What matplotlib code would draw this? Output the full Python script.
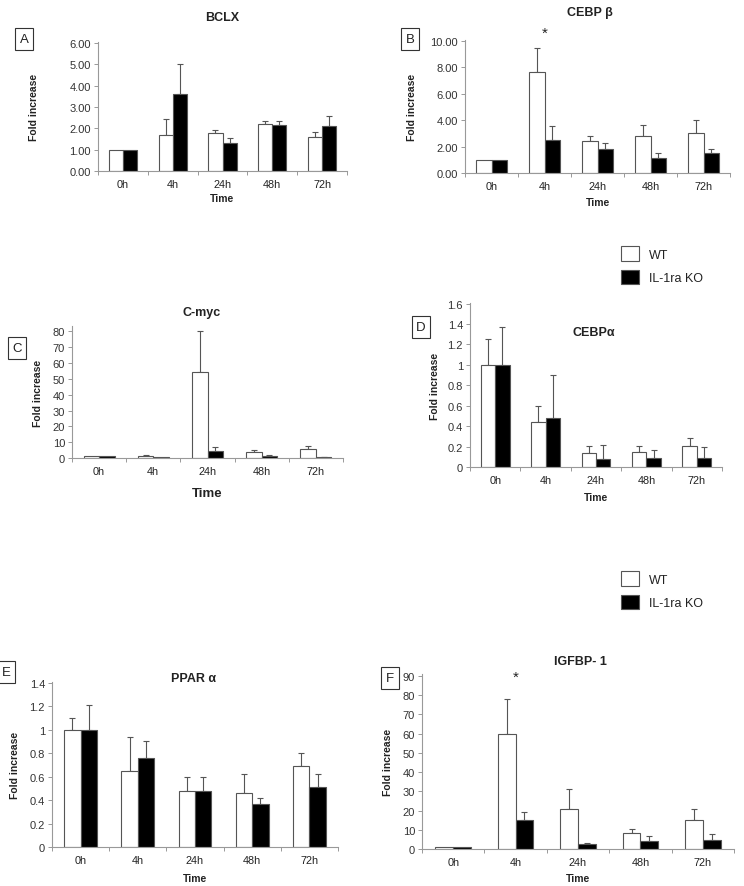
import numpy as np
import matplotlib
matplotlib.use('Agg')
import matplotlib.pyplot as plt
from matplotlib.patches import Patch

plt.rcParams['font.family'] = ['Liberation Sans', 'DejaVu Sans']

W, H = 744, 887

times = ['0h', '4h', '24h', '48h', '72h']

# Panel A - BCLX
bclx_wt = [1.0, 1.71, 1.79, 2.21, 1.60]
bclx_wt_err = [0, 0.74, 0.14, 0.13, 0.24]
bclx_ko = [1.0, 3.63, 1.32, 2.17, 2.10]
bclx_ko_err = [0, 1.39, 0.24, 0.17, 0.49]

# Panel B - CEBP beta
cebpb_wt = [1.0, 7.62, 2.43, 2.76, 3.06]
cebpb_wt_err = [0, 1.83, 0.33, 0.90, 0.92]
cebpb_ko = [1.0, 2.50, 1.85, 1.15, 1.48]
cebpb_ko_err = [0, 1.03, 0.45, 0.33, 0.30]

# Panel C - C-myc
cmyc_wt = [1.0, 1.5, 54.5, 3.6, 5.9]
cmyc_wt_err = [0, 0.5, 25.7, 1.7, 1.9]
cmyc_ko = [1.0, 0.5, 4.4, 1.4, 0.5]
cmyc_ko_err = [0, 0, 2.5, 0.5, 0.4]

# Panel D - CEBP alpha
cebpa_wt = [1.0, 0.44, 0.14, 0.15, 0.21]
cebpa_wt_err = [0.25, 0.16, 0.07, 0.06, 0.07]
cebpa_ko = [1.0, 0.48, 0.08, 0.09, 0.09]
cebpa_ko_err = [0.37, 0.42, 0.14, 0.08, 0.11]

# Panel E - PPAR alpha
ppar_wt = [1.0, 0.65, 0.48, 0.46, 0.69]
ppar_wt_err = [0.10, 0.29, 0.12, 0.16, 0.11]
ppar_ko = [1.0, 0.755, 0.48, 0.37, 0.51]
ppar_ko_err = [0.21, 0.145, 0.12, 0.05, 0.115]

# Panel F - IGFBP-1
igfbp_wt = [1.2, 59.7, 20.7, 8.2, 15.3]
igfbp_wt_err = [0, 18.1, 10.4, 2.0, 5.5]
igfbp_ko = [1.2, 15.3, 2.4, 4.3, 4.9]
igfbp_ko_err = [0, 3.8, 0.7, 2.5, 2.7]

EDGE = '#555555'
AXC = '#999999'
TXT = '#222222'


def fx(x):
    return x / W


def fy(y):
    return 1 - y / H


def panel(fig, box, wt, wt_err, ko, ko_err, ymax, yticks, fmt, ylab_x, time_y, time_size=7.5):
    l, t, r, b = box
    ax = fig.add_axes([fx(l), fy(b), fx(r) - fx(l), fy(t) - fy(b)])
    x = np.arange(len(times))
    w = 0.285
    ax.bar(x - w / 2, wt, w, color='white', edgecolor=EDGE, linewidth=0.8, zorder=2)
    ax.bar(x + w / 2, ko, w, color='black', edgecolor=EDGE, linewidth=0.8, zorder=2)
    # upper error bars only
    for off, vals, errs in [(-w / 2, wt, wt_err), (w / 2, ko, ko_err)]:
        vals = np.array(vals)
        errs = np.array(errs)
        m = errs > 0
        ax.errorbar(x[m] + off, vals[m], yerr=[np.zeros(m.sum()), errs[m]],
                    fmt='none', ecolor=EDGE, elinewidth=0.8, capsize=2,
                    capthick=0.8, zorder=1)
    ax.set_xlim(-0.5, 4.5)
    ax.set_ylim(0, ymax)
    ax.set_yticks(yticks)
    ax.set_yticklabels([fmt(v) for v in yticks])
    ax.set_xticks(x)
    ax.set_xticklabels(times)
    ax.set_xticks(np.arange(-0.5, 5, 1), minor=True)
    ax.tick_params(axis='x', which='major', length=0, pad=6, labelsize=7.8, labelcolor=TXT)
    ax.tick_params(axis='x', which='minor', length=3, color=AXC, width=0.7)
    ax.tick_params(axis='y', length=3, color=AXC, width=0.7, pad=2, labelsize=8, labelcolor='#333333')
    for s in ['top', 'right']:
        ax.spines[s].set_visible(False)
    for s in ['left', 'bottom']:
        ax.spines[s].set_color(AXC)
        ax.spines[s].set_linewidth(0.8)
    ax.set_ylabel('Fold increase', fontsize=7.5, fontweight='bold', color=TXT)
    ax.yaxis.set_label_coords((ylab_x - l) / (r - l), 0.5)
    fig.text(fx((l + r) / 2), fy(time_y), 'Time', fontsize=time_size, fontweight='bold',
             color=TXT, ha='center', va='center')
    return ax


def f2(v):
    return '%.2f' % v


def fi(v):
    return '%d' % v


def fg(v):
    return '%g' % round(v, 1)


fig = plt.figure(figsize=(W / 100, H / 100), dpi=100)

axA = panel(fig, (98, 43, 347, 172), bclx_wt, bclx_wt_err, bclx_ko, bclx_ko_err,
            6.05, np.arange(0, 7, 1.0), f2, 39, 199)
axB = panel(fig, (465, 41, 730, 174), cebpb_wt, cebpb_wt_err, cebpb_ko, cebpb_ko_err,
            10.05, np.arange(0, 11, 2.0), f2, 417, 203)
axC = panel(fig, (72, 327, 343, 459), cmyc_wt, cmyc_wt_err, cmyc_ko, cmyc_ko_err,
            83.4, np.arange(0, 81, 10), fi, 43, 494, time_size=9.5)
axD = panel(fig, (470, 304, 722, 468), cebpa_wt, cebpa_wt_err, cebpa_ko, cebpa_ko_err,
            1.605, np.arange(0, 1.61, 0.2), fg, 440, 498)
axE = panel(fig, (52, 683, 338, 848), ppar_wt, ppar_wt_err, ppar_ko, ppar_ko_err,
            1.405, np.arange(0, 1.41, 0.2), fg, 20, 879)
axF = panel(fig, (422, 675, 734, 850), igfbp_wt, igfbp_wt_err, igfbp_ko, igfbp_ko_err,
            91, np.arange(0, 91, 10), fi, 393, 879)

# significance stars
axB.text(1, 10.6, '*', ha='center', va='center', fontsize=11, color=TXT)
axF.text(1, 89.4, '*', ha='center', va='center', fontsize=11, color=TXT, clip_on=False)

# titles
titles = [('BCLX', 222, 18), ('CEBP β', 590, 13), ('C-myc', 202, 313),
          ('CEBPα', 594, 333), ('PPAR α', 194, 679), ('IGFBP- 1', 580, 662)]
for txt, x, y in titles:
    fig.text(fx(x), fy(y), txt, fontsize=9, fontweight='bold', color=TXT,
             ha='center', va='center')

# panel letters
letters = [('A', 24, 40), ('B', 410, 40), ('C', 17, 349), ('D', 421, 328),
           ('E', 6, 673), ('F', 390, 679)]
for txt, x, y in letters:
    fig.text(fx(x), fy(y), txt, fontsize=9.5, color=TXT, ha='center', va='center',
             bbox=dict(boxstyle='square,pad=0.35', facecolor='white',
                       edgecolor='#333333', linewidth=0.8))

# legends
handles = [Patch(facecolor='white', edgecolor=EDGE, linewidth=0.8, label='WT'),
           Patch(facecolor='black', edgecolor=EDGE, linewidth=0.8, label='IL-1ra KO')]
for ytop in [247, 572]:
    fig.legend(handles=handles, loc='upper left', bbox_to_anchor=(fx(621), fy(ytop)),
               frameon=False, fontsize=9, handlelength=1.45, handleheight=1.45,
               handletextpad=0.8, labelspacing=0.7, borderpad=0, borderaxespad=0,
               labelcolor=TXT)

fig.savefig('out.png', dpi=100)
